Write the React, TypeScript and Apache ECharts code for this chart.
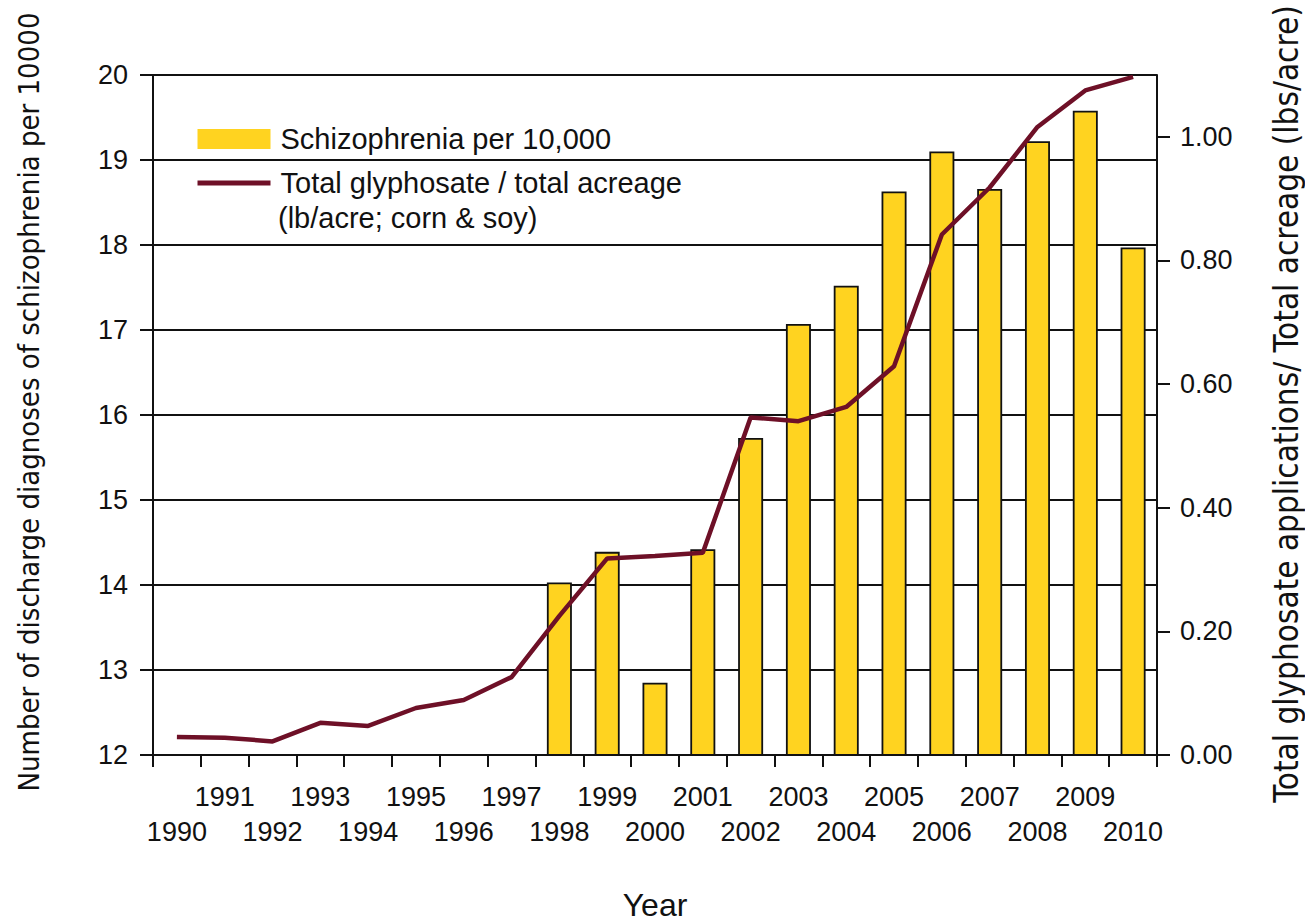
import React, { useEffect, useRef } from "react";
import * as echarts from "echarts";

const years = [
  "1990", "1991", "1992", "1993", "1994", "1995", "1996", "1997", "1998", "1999", "2000",
  "2001", "2002", "2003", "2004", "2005", "2006", "2007", "2008", "2009", "2010",
];
const schizophreniaPer10000 = [
  null, null, null, null, null, null, null, null,
  14.03, 14.39, 12.85, 14.42, 15.73, 17.07, 17.52, 18.63, 19.1, 18.66, 19.22, 19.58, 17.97,
];
const glyphosatePerAcre = [
  0.029, 0.028, 0.022, 0.052, 0.047, 0.076, 0.089, 0.126, 0.225, 0.318, 0.322,
  0.327, 0.546, 0.54, 0.563, 0.629, 0.842, 0.918, 1.016, 1.075, 1.097,
];
const rightTicks = [0, 0.2, 0.4, 0.6, 0.8, 1.0];

const BAR_NAME = "Schizophrenia per 10,000";
const LINE_NAME = "Total glyphosate / total acreage";
const LINE_NAME_2 = "(lb/acre; corn & soy)";
const LEFT_TITLE = "Number of discharge diagnoses of schizophrenia per 10000";
const RIGHT_TITLE = "Total glyphosate applications/ Total acreage (lbs/acre)";
const X_TITLE = "Year";

const SANS = "'Liberation Sans', Arial, sans-serif";
const NARROW = "'Liberation Sans Narrow', 'DejaVu Sans Condensed', sans-serif";
const BLACK = "#111111";
const GOLD = "#FFD320";
const MAROON = "#6E1027";

export default function App() {
  const ref = useRef<HTMLDivElement>(null);
  useEffect(() => {
    if (!ref.current) return;
    const chart = echarts.init(ref.current, null, { renderer: "svg" });
    chart.setOption({
      animation: false,
      backgroundColor: "#ffffff",
      grid: { left: 153, right: 148, top: 75, bottom: 168, containLabel: false, outerBoundsMode: "none" },
      legend: {
        orient: "vertical",
        left: 195,
        top: 124,
        padding: 0,
        itemWidth: 73,
        itemHeight: 20,
        itemGap: 14,
        textStyle: { fontSize: 29, lineHeight: 30, color: BLACK, fontFamily: SANS, padding: [0, 0, 0, 5] },
        data: [
          { name: BAR_NAME, icon: "rect", itemStyle: { color: GOLD, borderWidth: 0 } },
          { name: LINE_NAME, itemStyle: { opacity: 0 }, lineStyle: { width: 5, color: MAROON } },
        ],
      },
      graphic: [
        {
          type: "text",
          left: 278,
          top: 203,
          style: { text: LINE_NAME_2, fontSize: 29, fontFamily: SANS, fill: BLACK },
        },
      ],
      xAxis: {
        type: "category",
        data: years,
        boundaryGap: true,
        axisLine: { show: true, lineStyle: { color: BLACK, width: 2 } },
        axisTick: { show: true, interval: 0, length: 12, lineStyle: { color: BLACK, width: 2 } },
        axisLabel: {
          interval: 0,
          fontSize: 27,
          lineHeight: 35,
          margin: 24,
          color: BLACK,
          fontFamily: SANS,
          formatter: (v: string, i: number) => (i % 2 === 0 ? "\n" + v : v + "\n"),
        },
        splitLine: { show: false },
        name: X_TITLE,
        nameLocation: "middle",
        nameGap: 134,
        nameTextStyle: { fontSize: 32, color: BLACK, fontFamily: SANS },
      },
      yAxis: [
        {
          type: "value",
          min: 12,
          max: 20,
          interval: 1,
          position: "left",
          axisLine: { show: true, lineStyle: { color: BLACK, width: 2 } },
          axisTick: { show: true, length: 13, lineStyle: { color: BLACK, width: 2 } },
          axisLabel: { fontSize: 27, margin: 25, color: BLACK, fontFamily: SANS },
          splitLine: { show: true, lineStyle: { color: BLACK, width: 2 } },
          name: LEFT_TITLE,
          nameLocation: "middle",
          nameRotate: 90,
          nameGap: 110,
          nameTextStyle: { fontSize: 29, color: BLACK, fontFamily: NARROW, padding: [0, 0, 0, 26] },
        },
        {
          type: "value",
          min: 0,
          max: 1.1,
          position: "right",
          axisLine: { show: true, lineStyle: { color: BLACK, width: 2 } },
          axisTick: { show: true, length: 13, customValues: rightTicks, lineStyle: { color: BLACK, width: 2 } },
          axisLabel: {
            fontSize: 27,
            margin: 23,
            color: BLACK,
            fontFamily: SANS,
            customValues: rightTicks,
            formatter: (v: number) => v.toFixed(2),
          },
          splitLine: { show: false },
          name: RIGHT_TITLE,
          nameLocation: "middle",
          nameRotate: 90,
          nameGap: 113,
          nameTextStyle: { fontSize: 33, color: BLACK, fontFamily: NARROW, padding: [0, 0, 0, 22] },
        },
      ],
      series: [
        {
          name: BAR_NAME,
          type: "bar",
          yAxisIndex: 0,
          data: schizophreniaPer10000,
          barWidth: 25,
          itemStyle: { color: GOLD, borderColor: BLACK, borderWidth: 1.8 },
          z: 2,
        },
        {
          name: LINE_NAME,
          type: "line",
          yAxisIndex: 1,
          data: glyphosatePerAcre,
          symbol: "none",
          lineStyle: { color: MAROON, width: 4.5 },
          itemStyle: { color: MAROON },
          z: 3,
        },
      ],
    });
    return () => chart.dispose();
  }, []);
  return <div ref={ref} style={{ position: "fixed", left: 0, top: 0, width: 1305, height: 923 }} />;
}
